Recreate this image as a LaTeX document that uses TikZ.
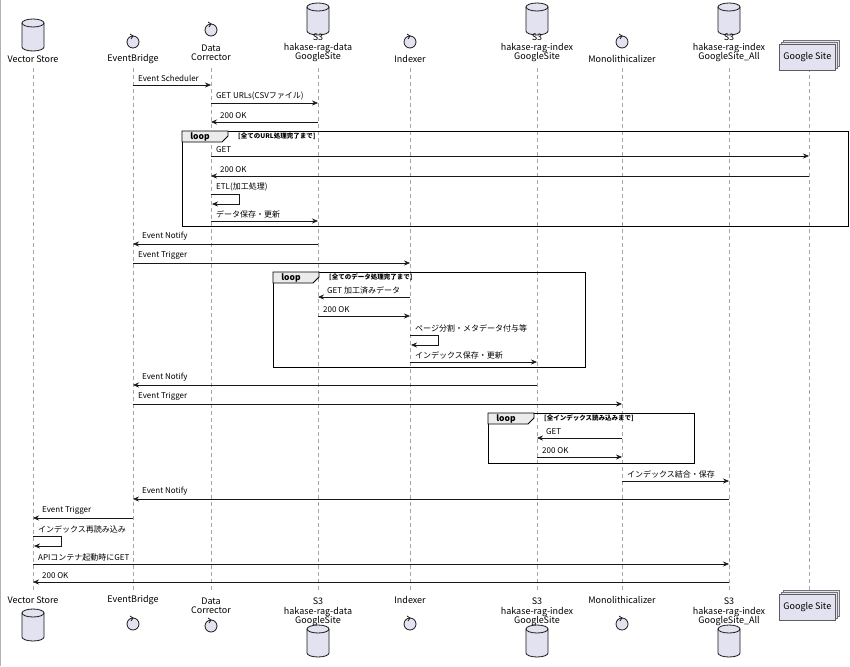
\documentclass[tikz,border=0pt]{standalone}
\usepackage{fontspec}
\setmainfont{Noto Sans CJK JP}
\usetikzlibrary{arrows.meta}
\definecolor{pfill}{HTML}{E2E2F0}
\definecolor{pline}{HTML}{181818}
\tikzset{
 x=1pt,y=-1pt,
 life/.style={draw=gray!70,dash pattern=on 4pt off 3pt,line width=0.5pt},
 msg/.style={draw=pline,line width=0.6pt,-{Stealth[length=6pt,width=5pt,inset=2pt]}},
 lbl/.style={font=\fontsize{8}{9}\selectfont,anchor=south west,inner sep=1pt},
 plbl/.style={font=\fontsize{9}{10.5}\selectfont,align=center,inner sep=0pt},
 frame/.style={draw=black,line width=1pt},
}
\newcommand{\mycyl}[3]{% x, ytop, name
 \begin{scope}[shift={(#1,#2)}]
 \draw[fill=pfill,draw=pline,line width=0.8pt] (-11,5) -- (-11,29) arc[x radius=11,y radius=4,start angle=180,end angle=0] -- (11,5) arc[x radius=11,y radius=4,start angle=0,end angle=-180] -- cycle;
 \draw[draw=pline,line width=0.8pt] (-11,5) arc[x radius=11,y radius=4,start angle=180,end angle=0];
 \node[inner sep=0pt] (#3) at (0,17) {};
 \end{scope}}
\newcommand{\myctl}[3]{% x, ycenter, name
 \draw[fill=pfill,draw=pline,line width=0.8pt] (#1,#2) circle[radius=6];
 \draw[draw=pline,line width=0.8pt] (#1-3,#2-8) -- (#1,#2-6) -- (#1-2,#2-3);
 \node[inner sep=0pt] (#3) at (#1,#2) {};}
\newcommand{\mygs}[3]{% x, ytop, name
 \draw[fill=pfill,draw=pline!60,line width=0.6pt] (#1+4,#2-4) rectangle (#1+60,#2+22);
 \draw[fill=pfill,draw=pline!60,line width=0.6pt] (#1+2,#2-2) rectangle (#1+58,#2+24);
 \node[draw=pline!70,fill=pfill,line width=0.6pt,minimum width=56pt,minimum height=26pt,anchor=north west,font=\fontsize{9}{10}\selectfont,inner sep=0pt] (#3) at (#1,#2) {Google Site};}
\newcommand{\myloop}[6]{% x1,y1,x2,y2,name,label
 \draw[frame] (#1,#2) rectangle (#3,#4);
 \draw[fill=black!8,draw=black,line width=0.8pt] (#1,#2) -- (#1+46,#2) -- (#1+46,#2+5) -- (#1+40,#2+11) -- (#1,#2+11) -- cycle;
 \node[font=\bfseries\fontsize{8.5}{9}\selectfont,inner sep=0pt] (#5) at (#1+18,#2+5.5) {loop};
 \node[font=\bfseries\fontsize{6.5}{7}\selectfont,anchor=west,inner sep=0pt] at (#1+56,#2+5) {#6};}
\begin{document}
\begin{tikzpicture}
\useasboundingbox[fill=white] (0,0) rectangle (850,666);
\draw[gray!60,line width=0.6pt] (0.3,0) -- (0.3,666);
% lifelines
\foreach \x in {33,133,211,318,410,537,622,729,809}{\draw[life] (\x,68) -- (\x,592);}
% top heads
\mycyl{33}{18}{vsT}
\node[plbl] (vsTl) at (33,59) {Vector Store};
\myctl{133}{42}{ebT}\node[plbl] (ebTl) at (133,59) {EventBridge};
\myctl{211}{30}{dcT}\node[plbl] (dcTl) at (211,53) {Data\\[-1pt]Corrector};
\mycyl{318}{2}{s1T}\node[plbl] (s1Tl) at (318,48) {S3\\[-1pt]hakase-rag-data\\[-1pt]GoogleSite};
\myctl{410}{42}{ixT}\node[plbl] (ixTl) at (410,59) {Indexer};
\mycyl{537}{2}{s2T}\node[plbl] (s2Tl) at (537,48) {S3\\[-1pt]hakase-rag-index\\[-1pt]GoogleSite};
\myctl{622}{42}{moT}\node[plbl] (moTl) at (622,59) {Monolithicalizer};
\mycyl{729}{2}{s3T}\node[plbl] (s3Tl) at (729,48) {S3\\[-1pt]hakase-rag-index\\[-1pt]GoogleSite\_All};
\mygs{779}{44}{gsT}
% bottom heads
\node[plbl] (vsBl) at (33,600) {Vector Store};\mycyl{33}{608}{vsB}
\node[plbl] (ebBl) at (133,600) {EventBridge};\myctl{133}{624}{ebB}
\node[plbl] (dcBl) at (211,606) {Data\\[-1pt]Corrector};\myctl{211}{626}{dcB}
\node[plbl] (s1Bl) at (318,612) {S3\\[-1pt]hakase-rag-data\\[-1pt]GoogleSite};\mycyl{318}{624}{s1B}
\node[plbl] (ixBl) at (410,600) {Indexer};\myctl{410}{624}{ixB}
\node[plbl] (s2Bl) at (537,612) {S3\\[-1pt]hakase-rag-index\\[-1pt]GoogleSite};\mycyl{537}{624}{s2B}
\node[plbl] (moBl) at (622,600) {Monolithicalizer};\myctl{622}{624}{moB}
\node[plbl] (s3Bl) at (729,612) {S3\\[-1pt]hakase-rag-index\\[-1pt]GoogleSite\_All};\mycyl{729}{624}{s3B}
\mygs{779}{594}{gsB}
% messages
\newcommand{\mymsg}[4]{\draw[msg] (#1,#3) -- (#2,#3);
 \ifdim #1pt<#2pt \node[lbl] at (#1+4,#3-2) {#4};\else\node[lbl] at (#2+8,#3-2) {#4};\fi}
\newcommand{\myself}[3]{\draw[msg] (#1,#2) -- (#1+28,#2) -- (#1+28,#2+10) -- (#1+1,#2+10);
 \node[lbl] at (#1+4,#2-2) {#3};}
\mymsg{133}{211}{85}{Event Scheduler}
\mymsg{211}{318}{103}{GET URLs(CSVファイル)}
\mymsg{318}{211}{122}{200 OK}
\myloop{182}{131}{848}{226}{lp1}{[全てのURL処理完了まで]}
\mymsg{211}{809}{156}{GET}
\mymsg{809}{211}{176}{200 OK}
\myself{211}{194}{ETL(加工処理)}
\mymsg{211}{318}{221}{データ保存・更新}
\mymsg{318}{133}{244}{Event Notify}
\mymsg{133}{410}{263}{Event Trigger}
\myloop{273}{272}{585}{367}{lp2}{[全てのデータ処理完了まで]}
\mymsg{410}{318}{297}{GET 加工済みデータ}
\mymsg{318}{410}{316}{200 OK}
\myself{410}{335}{ページ分割・メタデータ付与等}
\mymsg{410}{537}{362}{インデックス保存・更新}
\mymsg{537}{133}{385}{Event Notify}
\mymsg{133}{622}{404}{Event Trigger}
\myloop{488}{413}{694}{463}{lp3}{[全インデックス読み込みまで]}
\mymsg{622}{537}{438}{GET}
\mymsg{537}{622}{457}{200 OK}
\mymsg{622}{729}{481}{インデックス結合・保存}
\mymsg{729}{133}{499}{Event Notify}
\mymsg{133}{33}{518}{Event Trigger}
\myself{33}{536}{インデックス再読み込み}
\mymsg{33}{729}{564}{APIコンテナ起動時にGET}
\mymsg{729}{33}{582}{200 OK}
\end{tikzpicture}
\end{document}
